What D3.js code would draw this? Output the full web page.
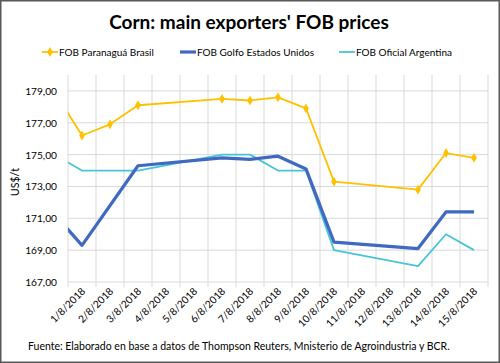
<!DOCTYPE html>
<html>
<head>
<meta charset="utf-8">
<script src="https://cdn.jsdelivr.net/npm/d3@7"></script>
<style>
  body { margin: 0; background: #fff; }
  text { font-family: Lato, "Open Sans", sans-serif; fill: #000; }
</style>
</head>
<body>
<div id="chart"></div>
<script>
// dates: the first one (31/7) sits just left of the axis and is clipped away
var dates = ["31/7/2018", "1/8/2018", "2/8/2018", "3/8/2018", "4/8/2018", "5/8/2018", "6/8/2018", "7/8/2018",
    "8/8/2018", "9/8/2018", "10/8/2018", "11/8/2018", "12/8/2018", "13/8/2018", "14/8/2018", "15/8/2018"]
var brasil = [179.0, 176.2, 176.9, 178.1, null, null, 178.5, 178.4, 178.6, 177.9, 173.3, null, null, 172.8, 175.1, 174.8]
var usa = [171.3, 169.3, null, 174.3, null, null, 174.8, 174.7, 174.9, 174.1, 169.5, null, null, 169.1, 171.4, 171.4]
var argentina = [175.0, 174.0, 174.0, 174.0, null, null, 175.0, 175.0, 174.0, 174.0, 169.0, null, null, 168.0, 170.0, 169.0]
var yTicks = [167, 169, 171, 173, 175, 177, 179]

var seriesNames = ["FOB Paranaguá Brasil", "FOB Golfo Estados Unidos", "FOB Oficial Argentina"]

const width = 500
const height = 363
const plot = { left: 68, right: 488, top: 75, bottom: 282 }

const svg = d3.select('#chart').append('svg')
    .attr('width', width)
    .attr('height', height)

// outer frame
svg.append('rect')
    .attr('x', 0.75).attr('y', 0.75)
    .attr('width', width - 1.5).attr('height', height - 1.5)
    .attr('fill', '#fff')
    .attr('stroke', '#595959')
    .attr('stroke-width', 1.5)

// index i -> category i (0 = 31/7, hidden)
const x = d3.scaleLinear().domain([0.5, 15.5]).range([plot.left, plot.right])
const y = d3.scaleLinear().domain([167, 180]).range([plot.bottom, plot.top])

svg.append('clipPath').attr('id', 'clip')
    .append('rect')
    .attr('x', plot.left).attr('y', plot.top - 10)
    .attr('width', plot.right - plot.left).attr('height', plot.bottom - plot.top + 20)

// horizontal gridlines
svg.append('g').selectAll('line').data(yTicks).join('line')
    .attr('x1', plot.left).attr('x2', plot.right)
    .attr('y1', d => y(d)).attr('y2', d => y(d))
    .attr('stroke', '#d9d9d9').attr('stroke-width', 1)

// vertical gridlines between categories
svg.append('g').selectAll('line').data(d3.range(0.5, 16, 1)).join('line')
    .attr('x1', d => x(d)).attr('x2', d => x(d))
    .attr('y1', plot.top).attr('y2', plot.bottom + 5)
    .attr('stroke', '#d9d9d9').attr('stroke-width', 1)

// y tick labels
svg.append('g').selectAll('text').data(yTicks).join('text')
    .attr('x', 57).attr('y', d => y(d) + 4)
    .attr('text-anchor', 'end')
    .attr('font-size', 10.2)
    .text(d => d.toFixed(2).replace('.', ','))

svg.append('text')
    .attr('transform', 'translate(19,182) rotate(-90)')
    .attr('text-anchor', 'middle')
    .attr('font-size', 10.5)
    .text('US$/t')

// x labels, rotated
svg.append('g').selectAll('text').data(dates.slice(1)).join('text')
    .attr('transform', (d, i) => `translate(${x(i + 1) + 4},${plot.bottom + 10}) rotate(-45)`)
    .attr('text-anchor', 'end')
    .attr('font-size', 10.2)
    .text(d => d)

const line = d3.line().x(d => x(d.i)).y(d => y(d.v))
const pts = arr => arr.map((v, i) => ({ i, v })).filter(d => d.v !== null)

const g = svg.append('g').attr('clip-path', 'url(#clip)')

g.append('path').attr('d', line(pts(argentina)))
    .attr('fill', 'none').attr('stroke', '#47C5D6').attr('stroke-width', 1.8)
    .attr('stroke-linejoin', 'round')

g.append('path').attr('d', line(pts(usa)))
    .attr('fill', 'none').attr('stroke', '#4069C2').attr('stroke-width', 3.2)
    .attr('stroke-linejoin', 'round')

g.append('path').attr('d', line(pts(brasil)))
    .attr('fill', 'none').attr('stroke', '#FFC000').attr('stroke-width', 1.8)
    .attr('stroke-linejoin', 'round')

const marker = d3.symbol().type(d3.symbolDiamond).size(16)
g.append('g').selectAll('path').data(pts(brasil).filter(d => d.i > 0)).join('path')
    .attr('transform', d => `translate(${x(d.i)},${y(d.v)})`)
    .attr('d', marker)
    .attr('fill', '#FFC000').attr('stroke', '#FFC000').attr('stroke-width', 1.2)

// title
svg.append('text')
    .attr('x', 249).attr('y', 29)
    .attr('text-anchor', 'middle')
    .attr('font-size', 19)
    .attr('font-weight', 'bold')
    .text("Corn: main exporters' FOB prices")

// legend
const legend = [
    { name: seriesNames[0], color: '#FFC000', w: 1.8, x: 42, mark: true },
    { name: seriesNames[1], color: '#4069C2', w: 3.2, x: 180, mark: false },
    { name: seriesNames[2], color: '#47C5D6', w: 1.8, x: 339, mark: false }
]
const lg = svg.append('g').selectAll('g').data(legend).join('g')
    .attr('transform', d => `translate(${d.x},52)`)
lg.append('line').attr('x1', 0).attr('x2', 16)
    .attr('stroke', d => d.color).attr('stroke-width', d => d.w)
lg.filter(d => d.mark).append('path')
    .attr('transform', 'translate(8,0)')
    .attr('d', marker)
    .attr('fill', d => d.color).attr('stroke', d => d.color).attr('stroke-width', 1.2)
lg.append('text').attr('x', 17).attr('y', 4)
    .attr('font-size', 10)
    .text(d => d.name)

// source
svg.append('text')
    .attr('x', 28).attr('y', 350)
    .attr('font-size', 10.5)
    .text('Fuente: Elaborado en base a datos de Thompson Reuters, Mnisterio de Agroindustria y BCR.')
</script>
</body>
</html>
